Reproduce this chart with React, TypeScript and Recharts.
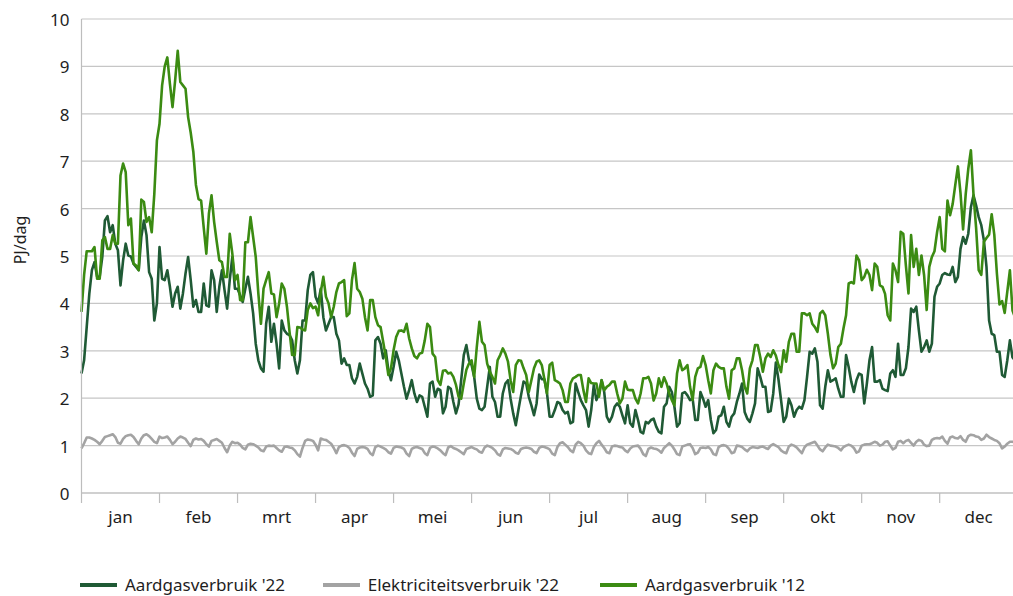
import React from 'react';
import { LineChart, Line, XAxis, YAxis, CartesianGrid, Legend } from 'recharts';

// ---- data ----
const months = ['jan', 'feb', 'mrt', 'apr', 'mei', 'jun', 'jul', 'aug', 'sep', 'okt', 'nov', 'dec'];
const DAYS_PER_MONTH = 30;
const yTicks = [0, 1, 2, 3, 4, 5, 6, 7, 8, 9, 10];
const seriesNames = ["Aardgasverbruik '22", "Elektriciteitsverbruik '22", "Aardgasverbruik '12"];

// Aardgasverbruik '22 (PJ/dag), daily
const gas22 = [
  2.52, 2.8, 3.5, 4.2, 4.7, 4.87, 4.56, 4.56, 4.98, 5.75, 5.84, 5.5, 5.65, 5.26, 5.12, 4.38, 4.91, 5.26, 5.01, 4.99, 4.84, 4.77, 4.7, 5.4, 5.75, 5.44, 4.66, 4.52, 3.64, 4.0,
  5.19, 4.52, 4.49, 4.7, 4.35, 3.93, 4.21, 4.35, 3.89, 4.21, 4.63, 4.98, 4.49, 3.93, 4.07, 3.82, 3.82, 4.42, 3.96, 3.93, 4.7, 4.49, 3.82, 4.35, 4.7, 4.28, 3.89, 4.49, 4.98, 4.31,
  4.31, 4.17, 4.03, 4.31, 4.56, 4.21, 3.79, 3.15, 2.8, 2.63, 2.56, 3.57, 3.93, 3.19, 3.57, 3.15, 2.63, 3.64, 3.43, 3.36, 3.33, 3.22, 2.8, 2.52, 2.8, 3.64, 3.64, 4.28, 4.6, 4.66,
  4.14, 4.0, 4.31, 3.71, 3.43, 3.57, 3.71, 3.71, 3.36, 3.22, 2.73, 2.84, 2.7, 2.7, 2.42, 2.31, 2.45, 2.73, 2.52, 2.31, 2.2, 2.03, 2.06, 3.22, 3.29, 3.15, 2.84, 3.01, 2.59, 2.38,
  2.66, 2.98, 2.8, 2.52, 2.24, 1.99, 2.17, 2.38, 2.1, 1.92, 2.06, 2.03, 1.82, 1.61, 2.31, 2.35, 2.03, 2.2, 2.17, 1.68, 1.82, 2.24, 2.2, 1.92, 1.68, 1.87, 2.38, 2.91, 3.12, 2.8,
  2.7, 2.45, 1.99, 1.78, 1.75, 1.82, 2.24, 2.66, 2.03, 1.92, 1.61, 1.61, 2.1, 2.31, 2.38, 1.99, 1.68, 1.43, 1.75, 2.06, 2.35, 2.31, 2.03, 1.85, 1.64, 1.89, 2.5, 2.4, 2.4, 2.1,
  1.61, 1.61, 1.75, 1.92, 1.89, 1.75, 1.68, 1.71, 1.47, 1.5, 2.31, 2.13, 1.96, 1.85, 1.75, 1.4, 1.75, 2.28, 1.96, 2.1, 2.38, 2.13, 1.61, 1.5, 1.61, 1.82, 1.89, 1.82, 1.64, 1.47,
  1.85, 1.47, 1.4, 1.75, 1.54, 1.29, 1.26, 1.5, 1.47, 1.54, 1.57, 1.4, 1.29, 1.26, 1.82, 1.89, 2.24, 2.13, 1.82, 1.4, 1.47, 2.1, 2.13, 2.06, 1.96, 1.99, 1.54, 1.54, 2.13, 1.99,
  1.82, 1.96, 1.54, 1.26, 1.33, 1.61, 1.64, 1.82, 1.5, 1.4, 1.61, 1.68, 1.92, 2.1, 2.31, 1.71, 1.57, 1.5, 1.68, 1.89, 2.63, 2.45, 2.24, 2.24, 1.71, 1.73, 2.1, 2.75, 2.4, 1.96,
  1.5, 1.61, 1.99, 1.85, 1.61, 1.75, 1.82, 1.78, 1.96, 2.45, 2.98, 2.94, 3.05, 2.77, 1.85, 1.78, 2.24, 2.59, 2.35, 2.38, 2.42, 2.2, 2.03, 2.03, 2.91, 2.66, 2.35, 2.13, 2.38, 2.52,
  2.49, 1.89, 2.31, 2.8, 3.08, 2.35, 2.35, 2.38, 2.2, 2.17, 2.15, 2.52, 2.59, 2.45, 3.15, 2.49, 2.49, 2.63, 3.08, 3.89, 3.82, 3.93, 3.43, 2.98, 3.08, 3.22, 2.98, 3.15, 4.14, 4.35,
  4.42, 4.6, 4.64, 4.61, 4.6, 4.77, 4.45, 4.56, 5.15, 5.4, 5.26, 5.47, 6.03, 6.28, 6.07, 5.82, 5.65, 5.33, 4.77, 3.64, 3.36, 3.33, 2.98, 2.98, 2.49, 2.45, 2.8, 3.22, 2.86, 2.8,
];

// Elektriciteitsverbruik '22 (PJ/dag), daily
const elec22 = [
  0.94, 1.05, 1.17, 1.17, 1.15, 1.12, 1.08, 1.03, 1.1, 1.18, 1.2, 1.22, 1.24, 1.18, 1.06, 1.04, 1.14, 1.2, 1.22, 1.23, 1.18, 1.1, 1.03, 1.15, 1.22, 1.24, 1.2, 1.14, 1.08, 1.05,
  1.19, 1.16, 1.17, 1.19, 1.12, 1.03, 1.08, 1.15, 1.19, 1.17, 1.14, 1.06, 0.99, 1.12, 1.15, 1.13, 1.14, 1.1, 1.03, 0.98, 1.1, 1.12, 1.14, 1.1, 1.06, 0.95, 0.86, 1.0, 1.08, 1.05,
  1.06, 1.02, 0.95, 0.92, 1.02, 1.04, 1.03, 1.0, 0.96, 0.9, 0.88, 0.98, 1.0, 0.99, 1.0, 0.95, 0.9, 0.87, 0.97, 0.98, 0.96, 0.95, 0.9, 0.82, 0.77, 0.95, 1.1, 1.13, 1.12, 1.1,
  1.02, 0.9, 1.15, 1.13, 1.12, 1.08, 1.04, 0.95, 0.84, 0.97, 1.0, 1.01, 0.99, 0.95, 0.85, 0.78, 0.93, 0.96, 0.97, 0.96, 0.93, 0.84, 0.8, 0.97, 1.0, 0.98, 0.95, 0.92, 0.86, 0.83,
  0.95, 0.98, 0.97, 0.96, 0.93, 0.83, 0.78, 0.93, 0.96, 0.97, 0.95, 0.93, 0.84, 0.8, 0.95, 0.98, 0.97, 0.94, 0.9, 0.84, 0.8, 0.96, 0.99, 0.95, 0.93, 0.9, 0.86, 0.82, 0.93, 0.95,
  0.97, 0.94, 0.92, 0.87, 0.85, 0.96, 1.0, 0.98, 0.95, 0.9, 0.82, 0.79, 0.92, 0.95, 0.94, 0.93, 0.9, 0.85, 0.83, 0.93, 0.95, 0.96, 0.95, 0.93, 0.87, 0.84, 0.95, 0.98, 0.97, 0.95,
  0.92, 0.83, 0.8, 0.97, 1.05, 1.07, 1.02, 0.97, 0.9, 0.86, 1.02, 1.08, 1.05, 1.0, 0.9, 0.84, 0.82, 0.97, 1.05, 1.1, 1.02, 0.95, 0.86, 0.84, 0.98, 1.0, 0.99, 0.97, 0.96, 0.9,
  0.86, 0.94, 0.98, 0.99, 1.0, 0.93, 0.82, 0.78, 0.93, 0.96, 0.94, 0.93, 0.9, 0.85, 0.95, 1.0, 1.05, 1.0, 0.92, 0.82, 0.8, 0.98, 1.0, 1.02, 1.03, 0.95, 0.82, 0.85, 0.95, 0.96,
  0.95, 0.97, 0.92, 0.82, 0.8, 0.97, 1.0, 1.01, 0.99, 0.93, 0.84, 0.86, 1.0, 0.99, 0.97, 0.92, 0.88, 0.94, 0.97, 0.96, 0.95, 0.97, 0.98, 0.95, 0.93, 1.0, 1.03, 1.0, 0.97, 0.9,
  0.86, 0.84, 0.98, 1.02, 1.0, 0.96, 0.9, 0.84, 0.96, 1.02, 1.04, 1.06, 1.08, 1.0, 0.92, 0.88, 0.96, 1.02, 1.0, 0.99, 0.98, 0.95, 0.9, 0.97, 1.0, 1.02, 1.0, 0.95, 0.85, 0.88,
  1.0, 1.02, 1.03, 1.03, 1.05, 1.08, 1.06, 1.0, 1.02, 1.08, 1.09, 1.0, 0.92, 0.95, 1.08, 1.1, 1.05, 1.1, 1.12, 1.06, 1.0, 1.08, 1.12, 1.1, 1.02, 0.99, 1.0, 1.12, 1.15, 1.16,
  1.15, 1.19, 1.1, 1.04, 1.17, 1.19, 1.16, 1.15, 1.2, 1.12, 1.08, 1.2, 1.23, 1.22, 1.19, 1.18, 1.12, 1.15, 1.23, 1.18, 1.15, 1.12, 1.1, 1.05, 0.94, 0.98, 1.04, 1.08, 1.08, 1.07,
];

// Aardgasverbruik '12 (PJ/dag), daily
const gas12 = [
  3.82, 4.6, 5.1, 5.1, 5.1, 5.19, 4.52, 4.52, 5.33, 5.4, 5.15, 5.15, 5.44, 5.26, 5.26, 6.7, 6.95, 6.77, 5.65, 5.79, 4.84, 4.8, 4.7, 6.19, 6.14, 5.72, 5.82, 5.5, 6.31, 7.44,
  7.79, 8.6, 9.0, 9.19, 8.63, 8.14, 8.7, 9.33, 8.67, 8.6, 8.53, 7.93, 7.6, 7.2, 6.5, 6.2, 6.17, 5.6, 5.05, 5.9, 6.28, 5.72, 5.3, 4.91, 4.87, 4.56, 4.56, 5.47, 5.05, 4.49,
  4.6, 4.07, 4.07, 5.29, 5.29, 5.82, 5.4, 4.98, 4.21, 3.57, 4.31, 4.49, 4.66, 4.21, 4.19, 3.71, 4.0, 4.42, 4.31, 3.93, 3.4, 2.91, 2.91, 3.5, 3.49, 3.45, 3.43, 3.86, 4.0, 3.9,
  3.93, 3.75, 4.24, 4.56, 4.14, 4.0, 3.71, 3.93, 4.24, 4.42, 4.45, 4.49, 3.73, 3.79, 4.49, 4.85, 4.31, 4.24, 4.1, 3.71, 3.43, 4.07, 4.07, 3.71, 3.54, 3.5, 3.19, 2.87, 2.49, 2.63,
  3.01, 3.29, 3.42, 3.43, 3.4, 3.57, 3.26, 3.05, 2.89, 2.84, 2.94, 2.96, 3.22, 3.57, 3.5, 2.94, 2.87, 2.38, 2.28, 2.58, 2.59, 2.52, 2.54, 2.45, 2.28, 2.03, 1.99, 2.31, 2.6, 2.73,
  2.8, 2.45, 3.08, 3.61, 3.19, 3.12, 2.73, 2.56, 2.45, 2.31, 2.8, 2.91, 3.05, 2.94, 2.77, 2.38, 2.13, 2.7, 2.8, 2.79, 2.63, 2.49, 2.13, 2.38, 2.63, 2.77, 2.8, 2.7, 2.4, 2.1,
  2.7, 2.75, 2.38, 2.35, 2.31, 2.17, 1.92, 1.92, 2.31, 2.42, 2.45, 2.49, 2.49, 2.17, 1.92, 2.42, 2.32, 2.31, 2.31, 2.03, 2.38, 2.17, 2.24, 2.28, 2.35, 2.35, 2.1, 1.89, 1.99, 2.35,
  2.18, 2.17, 2.17, 1.99, 1.89, 2.1, 2.42, 2.42, 2.45, 2.31, 1.95, 2.1, 2.42, 2.24, 2.44, 2.31, 2.1, 1.96, 1.85, 2.52, 2.8, 2.59, 2.63, 2.7, 2.24, 1.96, 2.45, 2.63, 2.66, 2.89,
  2.7, 2.38, 2.1, 2.59, 2.73, 2.66, 2.63, 2.63, 2.24, 1.99, 2.59, 2.63, 2.84, 2.84, 2.59, 2.24, 2.1, 2.63, 2.8, 3.12, 3.12, 2.87, 2.56, 2.84, 2.94, 2.87, 3.01, 2.9, 2.7, 2.55,
  3.01, 2.77, 3.19, 3.36, 3.36, 2.98, 2.98, 3.79, 3.79, 3.75, 3.79, 3.57, 3.5, 3.4, 3.79, 3.84, 3.75, 3.36, 2.91, 2.63, 2.73, 3.08, 3.15, 3.47, 3.75, 4.42, 4.45, 4.42, 5.01, 4.91,
  4.49, 4.56, 4.71, 4.6, 4.28, 4.84, 4.77, 4.38, 4.35, 4.2, 3.75, 3.64, 4.84, 4.7, 4.45, 5.51, 5.47, 4.8, 4.21, 5.44, 4.77, 5.15, 4.6, 5.01, 4.6, 3.86, 4.77, 4.98, 5.1, 5.5,
  5.82, 5.15, 5.1, 6.17, 5.86, 6.1, 6.5, 6.89, 6.33, 5.56, 6.3, 6.84, 7.23, 6.3, 5.6, 4.7, 4.6, 5.3, 5.38, 5.45, 5.88, 5.45, 4.63, 3.98, 4.05, 3.8, 4.25, 4.7, 3.85, 3.7,
];

const data = gas22.map((v, i) => ({ day: i, gas22: v, elec22: elec22[i], gas12: gas12[i] }));
const monthStarts = [...months.map((_, i) => i * DAYS_PER_MONTH), months.length * DAYS_PER_MONTH];
const monthCenters = months.map((_, i) => i * DAYS_PER_MONTH + DAYS_PER_MONTH / 2);

// ---- styles ----
const FONT = "'Noto Sans', 'Open Sans', sans-serif";
const TEXT = '#1e1e1e';
const AXIS = '#bdbdbd';
const GRID = '#c6c6c6';
const colors = ['#1f5a35', '#a3a3a3', '#3b8b12'];
const keys = ['gas22', 'elec22', 'gas12'];
const legendLeft = [80, 322.7, 600];

const LegendContent = () => (
  <div style={{ position: 'relative', width: 1013, height: 23, fontFamily: FONT, fontSize: 17, lineHeight: '23px', color: TEXT }}>
    {seriesNames.map((name, i) => (
      <div key={name} style={{ position: 'absolute', left: legendLeft[i], top: 0, display: 'flex', alignItems: 'center', whiteSpace: 'nowrap' }}>
        <span style={{ display: 'inline-block', width: 37, height: 3.5, background: colors[i], marginRight: 8, marginTop: 1 }} />
        <span>{name}</span>
      </div>
    ))}
  </div>
);

const YLabel = () => (
  <text x={20} y={240} transform="rotate(-90 20 240)" textAnchor="middle" dominantBaseline="central" fill={TEXT} fontFamily={FONT} fontSize={16}>
    PJ/dag
  </text>
);

const EmptyTick = () => <g />;

export default function App() {
  return (
    <div style={{ position: 'absolute', left: 0, top: 0, width: 1013, height: 596, overflow: 'hidden', background: '#fff' }}>
      <LineChart width={1030} height={596} data={data} margin={{ top: 19, right: 12.3, bottom: 63, left: 0 }}>
        <CartesianGrid vertical={false} stroke={GRID} strokeWidth={1.2} />
        <XAxis
          type="number"
          dataKey="day"
          domain={[0, months.length * DAYS_PER_MONTH]}
          ticks={monthStarts}
          interval={0}
          tick={<EmptyTick />}
          tickSize={10}
          height={1}
          axisLine={{ stroke: AXIS, strokeWidth: 1.2 }}
          tickLine={{ stroke: AXIS, strokeWidth: 1.2 }}
        />
        <XAxis
          xAxisId="labels"
          type="number"
          dataKey="day"
          domain={[0, months.length * DAYS_PER_MONTH]}
          ticks={monthCenters}
          interval={0}
          tickFormatter={(v: number) => months[Math.floor(v / DAYS_PER_MONTH)]}
          tickLine={false}
          axisLine={false}
          tickSize={0}
          tickMargin={17}
          height={39}
          tick={{ fill: TEXT, fontSize: 17, fontFamily: FONT }}
        />
        <YAxis
          domain={[0, 10]}
          ticks={yTicks}
          interval={0}
          width={81.5}
          tickLine={false}
          tickMargin={6}
          axisLine={{ stroke: AXIS, strokeWidth: 1.2 }}
          tick={{ fill: TEXT, fontSize: 17, fontFamily: FONT, dy: 1 }}
          label={<YLabel />}
        />
        <Legend layout="horizontal" verticalAlign="middle" align="center" wrapperStyle={{ top: 573, left: 0, width: 1013 }} content={<LegendContent />} />
        {keys.map((k, i) => (
          <Line
            key={k}
            type="linear"
            dataKey={k}
            name={seriesNames[i]}
            stroke={colors[i]}
            strokeWidth={2.6}
            dot={false}
            activeDot={false}
            strokeLinejoin="round"
            isAnimationActive={false}
          />
        ))}
      </LineChart>
    </div>
  );
}
